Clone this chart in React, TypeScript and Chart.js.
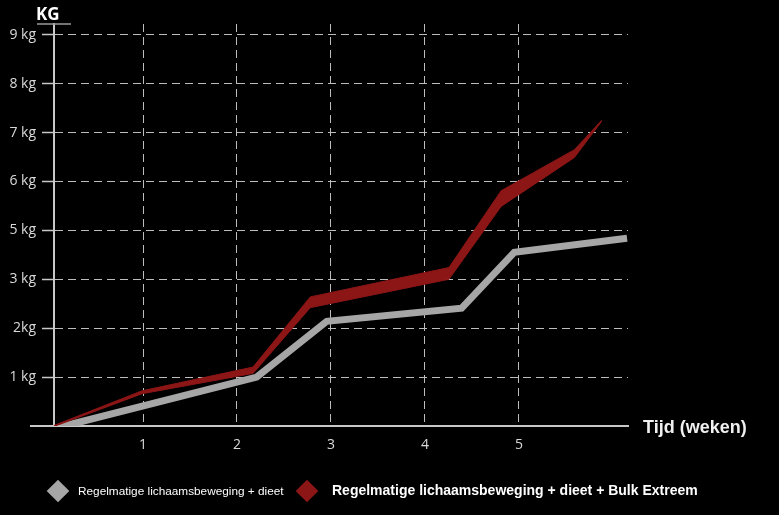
import React, { useEffect, useRef } from "react";
import { Chart, registerables } from "chart.js";

Chart.register(...registerables);

// X positions are in weeks, Y positions are in grid steps (the y tick labels skip "4 kg")
const grayX = [0.12, 2.21, 2.955, 4.39, 4.95, 6.15];
const grayY = [-0.02, 1.0, 2.14, 2.41, 3.55, 3.84];

const redX = [0.053, 0.99, 2.17, 2.78, 4.255, 4.81, 5.59, 5.88];
const redY = [0.0, 0.69, 1.14, 2.53, 3.12, 4.65, 5.57, 6.24];
const redThickness = [0.02, 0.06, 0.13, 0.22, 0.24, 0.32, 0.16, 0.02];

const xTickValues = [1, 2, 3, 4, 5];
const yTickValues = [1, 2, 3, 4, 5, 6, 7, 8];
const yTickLabels = ["1 kg", "2kg", "3 kg", "5 kg", "6 kg", "7 kg", "8 kg", "9 kg"];

const seriesNames = [
  "Regelmatige lichaamsbeweging + dieet",
  "Regelmatige lichaamsbeweging + dieet + Bulk Extreem",
];

const GRAY = "#a6a6a6";
const RED = "#8c1515";
const AXIS = "#c8c8c8";
const GRID = "#bdbdbd";
const TICK_TEXT = "#d9d9d9";

const decorPlugin = {
  id: "decor",
  afterDraw(chart: any) {
    const { ctx, chartArea } = chart;
    ctx.save();
    ctx.strokeStyle = AXIS;
    ctx.lineWidth = 2;
    ctx.beginPath();
    ctx.moveTo(chartArea.left - 24, chartArea.bottom);
    ctx.lineTo(chartArea.left, chartArea.bottom);
    ctx.stroke();
    ctx.strokeStyle = "#9a9a9a";
    ctx.lineWidth = 1.5;
    ctx.beginPath();
    ctx.moveTo(chartArea.left - 17, chartArea.top);
    ctx.lineTo(chartArea.left + 17, chartArea.top);
    ctx.stroke();
    ctx.restore();
  },
};

export default function App() {
  const ref = useRef<HTMLCanvasElement | null>(null);

  useEffect(() => {
    if (!ref.current) return;
    const redUpper = redX.map((x, i) => ({ x, y: redY[i] + redThickness[i] / 2 }));
    const redLower = redX.map((x, i) => ({ x, y: redY[i] - redThickness[i] / 2 }));
    const grayPts = grayX.map((x, i) => ({ x, y: grayY[i] }));

    const chart = new Chart(ref.current, {
      type: "line",
      data: {
        datasets: [
          {
            label: seriesNames[1] + " (boven)",
            data: redUpper,
            borderColor: RED,
            borderWidth: 1,
            backgroundColor: RED,
            pointRadius: 0,
            fill: false,
            tension: 0,
          },
          {
            label: seriesNames[1],
            data: redLower,
            borderColor: RED,
            borderWidth: 1,
            backgroundColor: RED,
            pointRadius: 0,
            fill: "-1",
            tension: 0,
          },
          {
            label: seriesNames[0],
            data: grayPts,
            borderColor: GRAY,
            borderWidth: 7,
            borderJoinStyle: "miter",
            borderCapStyle: "butt",
            pointRadius: 0,
            fill: false,
            tension: 0,
          },
        ],
      },
      options: {
        animation: false,
        responsive: false,
        devicePixelRatio: 1,
        layout: { padding: { left: 0, right: 151, top: 24, bottom: 0 } },
        plugins: {
          legend: { display: false },
          tooltip: { enabled: false },
        },
        scales: {
          x: {
            type: "linear",
            min: 0.053,
            max: 6.16,
            afterBuildTicks: (s: any) => {
              s.ticks = xTickValues.map((v) => ({ value: v }));
            },
            afterFit: (s: any) => {
              s.height = 89;
            },
            ticks: {
              color: TICK_TEXT,
              font: { family: "'Open Sans'", size: 14 },
              padding: 11,
              maxRotation: 0,
              autoSkip: false,
            },
            grid: {
              color: GRID,
              lineWidth: 1,
              drawTicks: false,
            },
            border: { display: true, color: AXIS, width: 2, dash: [8, 5] },
          },
          y: {
            type: "linear",
            min: 0,
            max: 8.22,
            afterBuildTicks: (s: any) => {
              s.ticks = yTickValues.map((v) => ({ value: v }));
            },
            afterFit: (s: any) => {
              s.width = 54;
            },
            ticks: {
              color: TICK_TEXT,
              font: { family: "'Open Sans'", size: 14 },
              padding: 6,
              autoSkip: false,
              callback: (v: any) => {
                const i = yTickValues.indexOf(Number(v));
                return i >= 0 ? yTickLabels[i] : "";
              },
            },
            grid: {
              color: GRID,
              lineWidth: 1,
              drawTicks: true,
              tickLength: 12,
              tickColor: AXIS,
              tickWidth: 1.5,
              tickBorderDash: [],
            },
            border: { display: true, color: AXIS, width: 2, dash: [8, 5] },
          },
        },
      },
      plugins: [decorPlugin],
    } as any);
    return () => chart.destroy();
  }, []);

  const abs = (s: React.CSSProperties): React.CSSProperties => ({ position: "absolute", margin: 0, whiteSpace: "nowrap", ...s });

  return (
    <div style={{ position: "fixed", left: 0, top: 0, width: 779, height: 515, background: "#000", overflow: "hidden" }}>
      <canvas ref={ref} width={779} height={515} style={{ position: "absolute", left: 0, top: 0, width: 779, height: 515 }} />
      <div style={abs({ left: 36, top: 5, fontFamily: "'Open Sans', 'Noto Sans', sans-serif", fontWeight: 700, fontSize: 17, lineHeight: "17px", color: "#fff" })}>KG</div>
      <div style={abs({ left: 643, top: 418, fontFamily: "'Liberation Sans', sans-serif", fontWeight: 700, fontSize: 18, lineHeight: "18px", color: "#f0f0f0" })}>Tijd (weken)</div>
      <div style={abs({ left: 49.5, top: 483, width: 16, height: 16, background: GRAY, transform: "rotate(45deg)" })} />
      <div style={abs({ left: 78, top: 485, fontFamily: "'Liberation Sans', sans-serif", fontSize: 11.8, lineHeight: "12px", color: "#fff" })}>{seriesNames[0]}</div>
      <div style={abs({ left: 298.5, top: 483, width: 16, height: 16, background: RED, transform: "rotate(45deg)" })} />
      <div style={abs({ left: 332, top: 483, fontFamily: "'Liberation Sans', sans-serif", fontWeight: 700, fontSize: 14, lineHeight: "14px", color: "#fff" })}>{seriesNames[1]}</div>
    </div>
  );
}
